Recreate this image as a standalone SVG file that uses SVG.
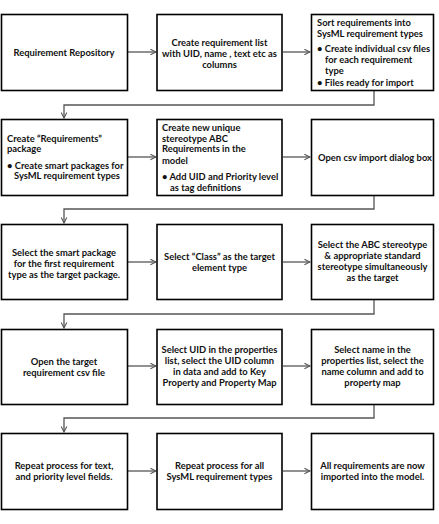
<svg xmlns="http://www.w3.org/2000/svg" width="439" height="524" viewBox="0 0 439 524">
<defs>
<style>
.box{fill:#fff;stroke:#000;stroke-width:1.6}
.t{font-family:Lato,"Liberation Sans",sans-serif;font-weight:700;font-size:9.4px;fill:#111}
.c{text-anchor:middle}
.ln{fill:none;stroke:#555;stroke-width:1.3}
</style>
<marker id="ah" viewBox="0 0 10 10" refX="9" refY="5" markerWidth="7" markerHeight="7" markerUnits="userSpaceOnUse" orient="auto">
<path d="M1,1 L9,5 L1,9" fill="none" stroke="#555" stroke-width="1.5"/>
</marker>
</defs>
<rect width="439" height="524" fill="#fff"/>
<g id="connectors">
<line class="ln" x1="128" y1="52" x2="156" y2="52" marker-end="url(#ah)"/>
<line class="ln" x1="283" y1="52" x2="310" y2="52" marker-end="url(#ah)"/>
<polyline class="ln" points="374,91 374,105 64,105 64,118" marker-end="url(#ah)"/>
<line class="ln" x1="128" y1="157" x2="156" y2="157" marker-end="url(#ah)"/>
<line class="ln" x1="283" y1="157" x2="310" y2="157" marker-end="url(#ah)"/>
<polyline class="ln" points="374,196 374,209 64,209 64,223" marker-end="url(#ah)"/>
<line class="ln" x1="128" y1="262" x2="156" y2="262" marker-end="url(#ah)"/>
<line class="ln" x1="283" y1="262" x2="310" y2="262" marker-end="url(#ah)"/>
<polyline class="ln" points="374,300 374,314 64,314 64,328" marker-end="url(#ah)"/>
<line class="ln" x1="128" y1="366" x2="156" y2="366" marker-end="url(#ah)"/>
<line class="ln" x1="283" y1="366" x2="310" y2="366" marker-end="url(#ah)"/>
<polyline class="ln" points="374,405 374,418 64,418 64,432" marker-end="url(#ah)"/>
<line class="ln" x1="128" y1="471" x2="156" y2="471" marker-end="url(#ah)"/>
<line class="ln" x1="283" y1="471" x2="310" y2="471" marker-end="url(#ah)"/>
</g>
<g id="n1"><rect class="box" x="1.5" y="14.5" width="126" height="76"/>
<text class="t c" x="64" y="55.5">Requirement Repository</text></g>
<g id="n2"><rect class="box" x="157" y="14.5" width="125" height="76"/>
<text class="t c" x="219.5" y="45.5">Create requirement list</text>
<text class="t c" x="219.5" y="56.5">with UID, name , text etc as</text>
<text class="t c" x="219.5" y="67.5">columns</text></g>
<g id="n3"><rect class="box" x="311.5" y="14.5" width="122" height="76"/>
<text class="t" x="317" y="25.5">Sort requirements into</text>
<text class="t" x="317" y="36.5">SysML requirement types</text>
<text class="t" x="317" y="51.5">• Create individual  csv files</text>
<text class="t" x="325" y="62.5">for each requirement</text>
<text class="t" x="325" y="73.5">type</text>
<text class="t" x="317" y="86">• Files ready for import</text></g>
<g id="n4"><rect class="box" x="1.5" y="119.5" width="126" height="76"/>
<text class="t" x="7" y="141.5">Create “Requirements”</text>
<text class="t" x="7" y="152">package</text>
<text class="t" x="7" y="168.5">• Create smart packages for</text>
<text class="t" x="14" y="179">SysML requirement types</text></g>
<g id="n5"><rect class="box" x="157" y="119.5" width="125" height="76"/>
<text class="t" x="162" y="130.5">Create new unique</text>
<text class="t" x="162" y="141.5">stereotype ABC</text>
<text class="t" x="162" y="152">Requirements  in  the</text>
<text class="t" x="162" y="163.5">model</text>
<text class="t" x="162" y="179.5">• Add UID and Priority level</text>
<text class="t" x="170" y="190.5">as tag definitions</text></g>
<g id="n6"><rect class="box" x="311.5" y="119.5" width="122" height="76"/>
<text class="t c" x="375" y="160.5">Open csv import dialog box</text></g>
<g id="n7"><rect class="box" x="1.5" y="224.5" width="126" height="75"/>
<text class="t c" x="64" y="255.5">Select the smart package</text>
<text class="t c" x="64" y="266.5">for the first requirement</text>
<text class="t c" x="64" y="277.5">type as the target package.</text></g>
<g id="n8"><rect class="box" x="157" y="224.5" width="125" height="75"/>
<text class="t c" x="219.5" y="259.5">Select “Class” as the target</text>
<text class="t c" x="219.5" y="270.5">element type</text></g>
<g id="n9"><rect class="box" x="311.5" y="224.5" width="122" height="75"/>
<text class="t c" x="372.5" y="247.5">Select the ABC stereotype</text>
<text class="t c" x="372.5" y="258.5">&amp; appropriate standard</text>
<text class="t c" x="372.5" y="269.5">stereotype simultaneously</text>
<text class="t c" x="372.5" y="281">as the target</text></g>
<g id="n10"><rect class="box" x="1.5" y="329.5" width="126" height="75"/>
<text class="t c" x="64" y="364.5">Open  the target</text>
<text class="t c" x="64" y="375.5">requirement csv file</text></g>
<g id="n11"><rect class="box" x="157" y="329.5" width="125" height="75"/>
<text class="t c" x="219.5" y="352.5">Select UID in the properties</text>
<text class="t c" x="219.5" y="363.5">list, select the UID column</text>
<text class="t c" x="219.5" y="375">in data and add to Key</text>
<text class="t c" x="219.5" y="386">Property and Property Map</text></g>
<g id="n12"><rect class="box" x="311.5" y="329.5" width="122" height="75"/>
<text class="t c" x="372.5" y="352.5">Select name in the</text>
<text class="t c" x="372.5" y="363.5">properties list, select the</text>
<text class="t c" x="372.5" y="374.5">name column and add to</text>
<text class="t c" x="372.5" y="386">property map</text></g>
<g id="n13"><rect class="box" x="1.5" y="433.5" width="126" height="76"/>
<text class="t c" x="64" y="468.5">Repeat process for text,</text>
<text class="t c" x="64" y="479.5">and priority level fields.</text></g>
<g id="n14"><rect class="box" x="157" y="433.5" width="125" height="76"/>
<text class="t c" x="219.5" y="468.5">Repeat process for all</text>
<text class="t c" x="219.5" y="479.5">SysML requirement types</text></g>
<g id="n15"><rect class="box" x="311.5" y="433.5" width="122" height="76"/>
<text class="t c" x="372.5" y="468.5">All requirements are now</text>
<text class="t c" x="372.5" y="479.5">imported into the model.</text></g>
</svg>
